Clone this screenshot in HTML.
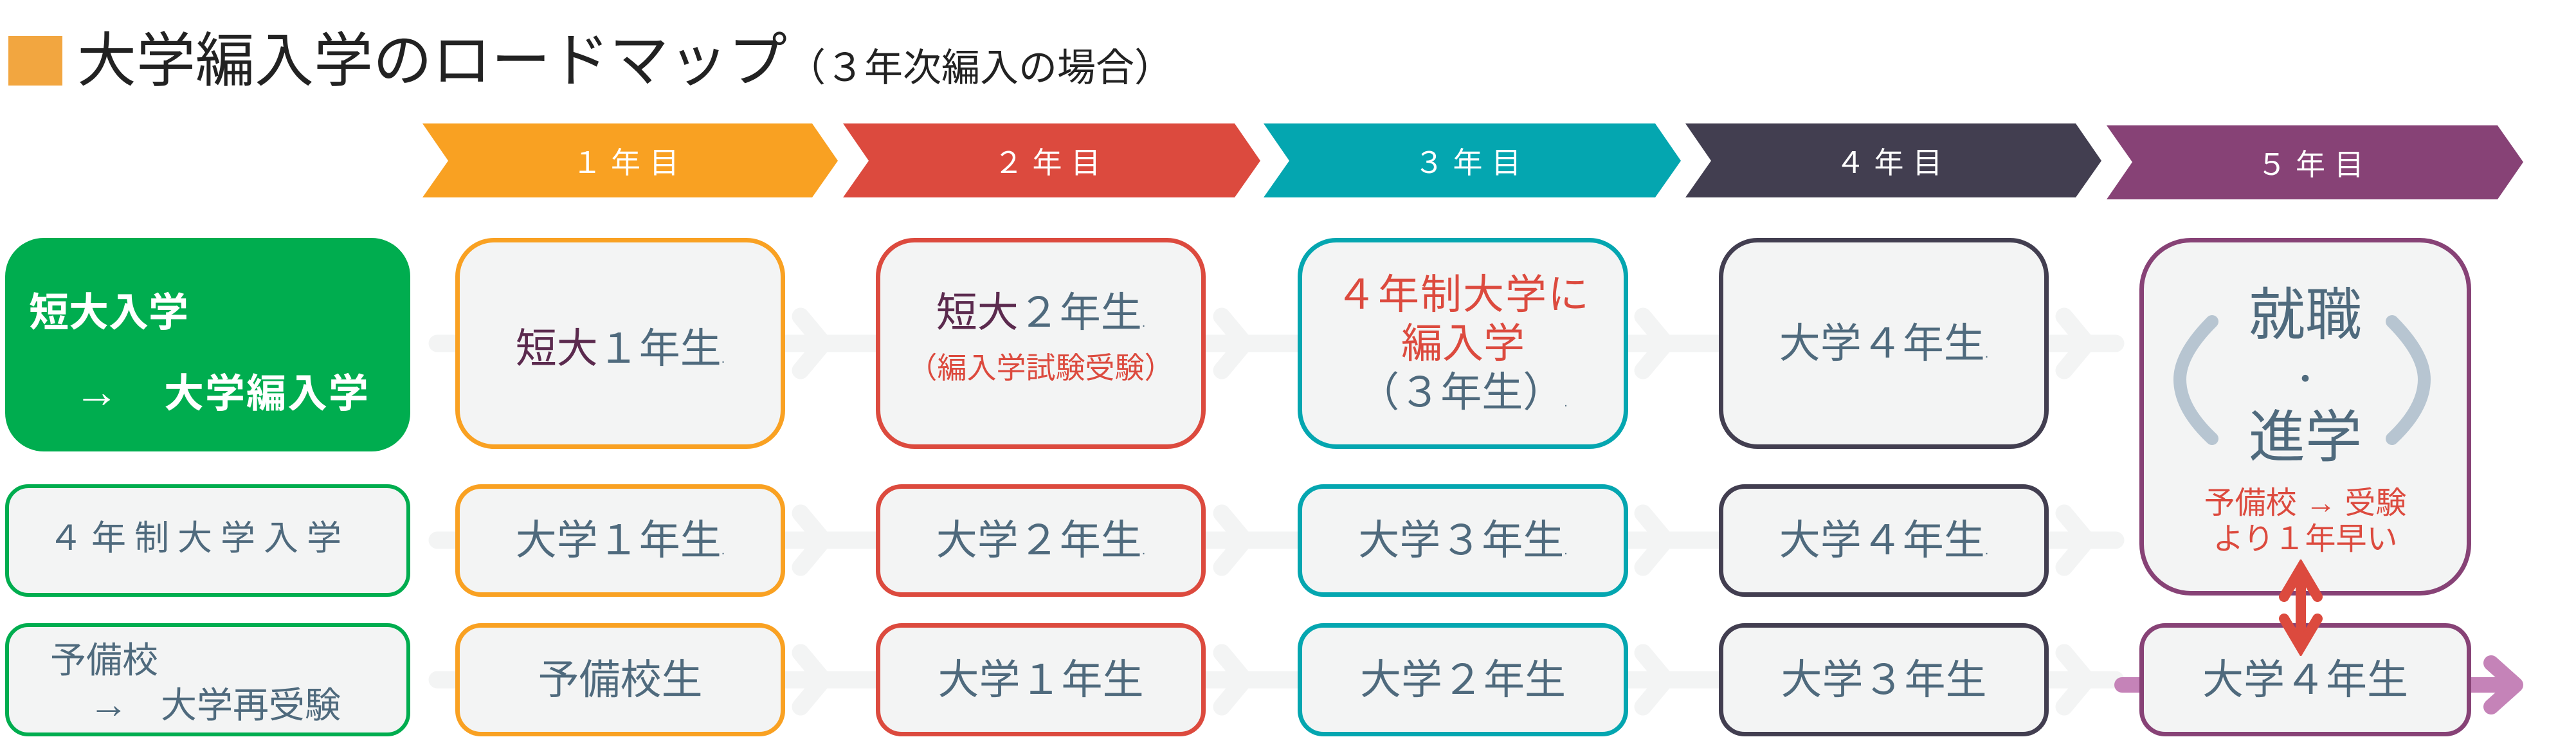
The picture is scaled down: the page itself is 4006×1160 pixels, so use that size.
<!DOCTYPE html>
<html><head><meta charset="utf-8">
<style>
*{margin:0;padding:0;box-sizing:border-box}
body{width:4006px;height:1160px;background:#fff;position:relative;overflow:hidden;font-family:"Liberation Sans","Noto Sans CJK JP",sans-serif;color:#4f6a7d}
.a{position:absolute}
.box{position:absolute;background:#f3f4f4;border:7px solid;display:flex;flex-direction:column;align-items:center;justify-content:center;font-size:64px;line-height:1.2;white-space:nowrap}
.d{font-size:20px;line-height:0}
.r1{top:370px;height:328px;border-radius:60px}
.r2{top:753px;height:175px;border-radius:40px}
.r3{top:969px;height:176px;border-radius:40px}
.c1{left:708px;width:513px;border-color:#f9a122}
.c2{left:1362px;width:513px;border-color:#dc4a3e}
.c3{left:2018px;width:514px;border-color:#04a6b0}
.c4{left:2673px;width:513px;border-color:#423e50}
.c5{left:3327px;width:516px;border-color:#874276}
.red{color:#dc4a3e}
.pur{color:#5b2a4e}
.lbl{position:absolute;top:192px;height:115px;display:flex;align-items:center;justify-content:center;color:#fff;font-size:46px;letter-spacing:14px}
.line{position:absolute;left:8px;width:630px;border:6px solid #00ad4f;background:#f3f4f4;border-radius:36px}
</style></head><body>
<div class="a" style="left:13px;top:56px;width:84px;height:77px;background:#f2a640"></div>
<div class="a" style="left:120px;top:40px;font-size:92px;color:#222;white-space:nowrap;line-height:110px">大学編入学のロードマップ<span style="font-size:60px">（３年次編入の場合）</span></div>

<svg class="a" style="left:0;top:0" width="4006" height="1160">
<g fill="#f9a122"><polygon points="657,192 1263,192 1303,250 1263,307 657,307 697,250"/></g>
<g fill="#dc4a3e"><polygon points="1311,192 1920,192 1960,250 1920,307 1311,307 1351,250"/></g>
<g fill="#04a6b0"><polygon points="1965,192 2574,192 2614,250 2574,307 1965,307 2005,250"/></g>
<g fill="#423e50"><polygon points="2621,192 3228,192 3268,250 3228,307 2621,307 2661,250"/></g>
<g fill="#874276"><polygon points="3276,195 3884,195 3924,252 3884,310 3276,310 3316,252"/></g>
<g stroke="#f3f4f4" stroke-width="27" stroke-linecap="round" fill="none" stroke-linejoin="round">
<line x1="680" y1="534" x2="3290" y2="534"/>
<line x1="680" y1="840" x2="3290" y2="840"/>
<line x1="680" y1="1057" x2="3290" y2="1057"/>
<polyline points="1245,492 1280,534 1245,576"/>
<polyline points="1900,492 1935,534 1900,576"/>
<polyline points="2555,492 2590,534 2555,576"/>
<polyline points="3210,492 3245,534 3210,576"/>
<polyline points="1245,798 1280,840 1245,882"/>
<polyline points="1900,798 1935,840 1900,882"/>
<polyline points="2555,798 2590,840 2555,882"/>
<polyline points="3210,798 3245,840 3210,882"/>
<polyline points="1245,1015 1280,1057 1245,1099"/>
<polyline points="1900,1015 1935,1057 1900,1099"/>
<polyline points="2555,1015 2590,1057 2555,1099"/>
<polyline points="3210,1015 3245,1057 3210,1099"/>
</g>
<g stroke="#c583b8" stroke-width="24" stroke-linecap="round" fill="none" stroke-linejoin="round">
<line x1="3300" y1="1065" x2="3340" y2="1065"/>
<line x1="3840" y1="1065" x2="3910" y2="1065"/>
<polyline points="3874,1031 3912,1065 3874,1099"/>
</g>
</svg>

<div class="lbl" style="left:697px;width:566px">１年目</div>
<div class="lbl" style="left:1351px;width:569px">２年目</div>
<div class="lbl" style="left:2005px;width:569px">３年目</div>
<div class="lbl" style="left:2661px;width:567px">４年目</div>
<div class="lbl" style="left:3316px;width:568px;top:195px">５年目</div>

<div class="a" style="left:8px;top:370px;width:630px;height:332px;background:#00ad4f;border-radius:60px"></div>
<div class="a" style="left:45px;top:450px;font-size:62px;font-weight:bold;color:#fff;line-height:74px">短大入学</div>
<div class="a" style="left:115px;top:572px;font-size:62px;font-weight:bold;color:#fff;line-height:74px;white-space:nowrap"><span style="font-size:70px">→</span><span style="margin-left:70px;letter-spacing:2px">大学編入学</span></div>

<div class="line" style="top:753px;height:175px"></div>
<div class="a" style="left:75px;top:805px;font-size:54px;letter-spacing:13px;line-height:64px;white-space:nowrap">４年制大学入学</div>
<div class="line" style="top:969px;height:176px"></div>
<div class="a" style="left:78px;top:994px;font-size:56px;line-height:66px">予備校</div>
<div class="a" style="left:138px;top:1063px;font-size:56px;line-height:66px;white-space:nowrap"><span style="font-size:62px">→</span><span style="margin-left:50px">大学再受験</span></div>

<div class="box r1 c1"><div style="margin-top:16px"><span class="pur">短大</span>１年生<span class="d">.</span></div></div>
<div class="box r1 c2"><div style="margin-top:-20px"><span class="pur">短大</span>２年生<span class="d">.</span></div><div class="red" style="font-size:46px;margin-top:20px">（編入学試験受験）</div></div>
<div class="box r1 c3" style="line-height:76px"><div class="red" style="letter-spacing:2px">４年制大学に</div><div class="red">編入学</div><div>（３年生）<span class="d">.</span></div></div>
<div class="box r1 c4"><div>大学４年生<span class="d">.</span></div></div>
<div class="box c5" style="top:370px;height:556px;border-radius:80px;justify-content:flex-start"></div>
<div class="a" style="left:3327px;top:440px;width:516px;text-align:center;font-size:88px;line-height:100px">就職</div>
<div class="a" style="left:3327px;top:560px;width:516px;text-align:center;font-size:50px;line-height:60px">・</div>
<div class="a" style="left:3327px;top:630px;width:516px;text-align:center;font-size:88px;line-height:100px">進学</div>
<div class="a red" style="left:3327px;top:755px;width:516px;text-align:center;font-size:48px;line-height:56px;white-space:nowrap">予備校 → 受験<br>より１年早い</div>
<svg class="a" style="left:3370px;top:490px" width="420" height="210">
<path d="M70,10 Q20,60 20,100 Q20,145 70,192" stroke="#b7c5d1" stroke-width="20" fill="none" stroke-linecap="round"/>
<path d="M350,10 Q400,60 400,100 Q400,145 350,192" stroke="#b7c5d1" stroke-width="20" fill="none" stroke-linecap="round"/>
</svg>

<div class="box r2 c1"><div>大学１年生<span class="d">.</span></div></div>
<div class="box r2 c2"><div>大学２年生<span class="d">.</span></div></div>
<div class="box r2 c3"><div>大学３年生<span class="d">.</span></div></div>
<div class="box r2 c4"><div>大学４年生<span class="d">.</span></div></div>

<div class="box r3 c1">予備校生</div>
<div class="box r3 c2">大学１年生</div>
<div class="box r3 c3">大学２年生</div>
<div class="box r3 c4">大学３年生</div>
<div class="box r3 c5">大学４年生</div>

<svg class="a" style="left:3530px;top:870px" width="100" height="150">
<g stroke="#dc4a3e" stroke-width="16" stroke-linecap="round" fill="none">
<line x1="48" y1="25" x2="48" y2="125"/>
<polyline points="22,58 48,14 74,58"/>
<polyline points="22,92 48,136 74,92"/>
</g>
</svg>
</body></html>
